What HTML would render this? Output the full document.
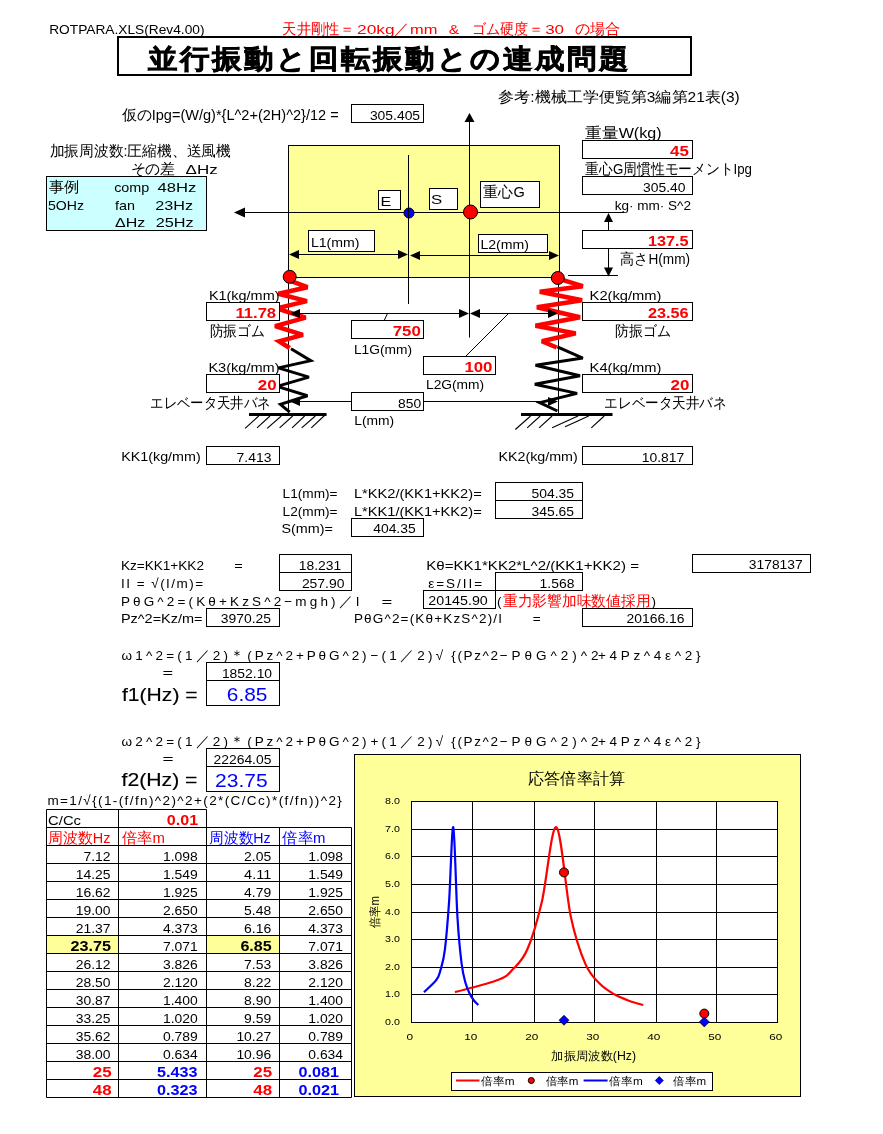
<!DOCTYPE html>
<html><head><meta charset="utf-8"><title>ROTPARA</title>
<style>
html,body{margin:0;padding:0;background:#fff;width:883px;height:1134px;overflow:hidden}
svg{display:block}
text{font-family:"Liberation Sans",sans-serif}
svg{will-change:transform}
</style></head><body>
<svg width="883" height="1134" viewBox="0 0 883 1134">
<rect x="0" y="0" width="883" height="1134" fill="#fff"/>
<text x="49.2" y="34" font-size="13.5" textLength="155.3" lengthAdjust="spacingAndGlyphs">ROTPARA.XLS(Rev4.00)</text>
<text x="282.4" y="33.5" font-size="14.5" fill="#ff0000" textLength="71.5" lengthAdjust="spacingAndGlyphs">天井剛性＝</text>
<text x="357.1" y="33.5" font-size="13.5" fill="#ff0000" textLength="37.6" lengthAdjust="spacingAndGlyphs">20kg</text>
<text x="393.8" y="33.5" font-size="14.5" fill="#ff0000" textLength="15.2" lengthAdjust="spacingAndGlyphs">／</text>
<text x="410.1" y="33.5" font-size="13.5" fill="#ff0000" textLength="27.4" lengthAdjust="spacingAndGlyphs">mm</text>
<text x="448.8" y="33.5" font-size="13.5" fill="#ff0000" textLength="10.4" lengthAdjust="spacingAndGlyphs">&amp;</text>
<text x="471.8" y="33.5" font-size="14.5" fill="#ff0000" textLength="70.9" lengthAdjust="spacingAndGlyphs">ゴム硬度＝</text>
<text x="545.2" y="33.5" font-size="13.5" fill="#ff0000" textLength="18.9" lengthAdjust="spacingAndGlyphs">30</text>
<text x="574.8" y="33.5" font-size="14.5" fill="#ff0000" textLength="45.4" lengthAdjust="spacingAndGlyphs">の場合</text>
<rect x="118" y="37" width="573" height="38" fill="none" stroke="#000" stroke-width="2"/>
<text transform="translate(148.2,0) scale(1.09,1)" x="0" y="67.6" font-size="27" font-weight="bold" stroke="#000" stroke-width="0.7" textLength="440" lengthAdjust="spacing">並行振動と回転振動との連成問題</text>
<text x="121.7" y="120.3" font-size="14.5" textLength="217.0" lengthAdjust="spacingAndGlyphs">仮のIpg=(W/g)*{L^2+(2H)^2}/12 =</text>
<rect x="351.5" y="104.5" width="72.0" height="18.0" fill="#fff" stroke="#000" stroke-width="1"/>
<text x="369.9" y="120" font-size="13.5" textLength="50.2" lengthAdjust="spacingAndGlyphs">305.405</text>
<text x="498.2" y="102" font-size="14.5" textLength="241.6" lengthAdjust="spacingAndGlyphs">参考:機械工学便覧第3編第21表(3)</text>
<text x="49.5" y="155.8" font-size="14.5" textLength="181.5" lengthAdjust="spacingAndGlyphs">加振周波数:圧縮機、送風機</text>
<text x="130.6" y="173.8" font-size="14.5" textLength="44.7" lengthAdjust="spacingAndGlyphs">その差</text>
<text x="185.6" y="173.8" font-size="13.5" textLength="32.1" lengthAdjust="spacingAndGlyphs">ΔHz</text>
<rect x="46.5" y="176.5" width="160.0" height="54.0" fill="#ccffff" stroke="#000" stroke-width="1"/>
<text x="48.9" y="191.5" font-size="14.5" textLength="30.6" lengthAdjust="spacingAndGlyphs">事例</text>
<text x="114.2" y="192.1" font-size="13.5" textLength="35.1" lengthAdjust="spacingAndGlyphs">comp</text>
<text x="157.6" y="192.1" font-size="13.5" textLength="38.8" lengthAdjust="spacingAndGlyphs">48Hz</text>
<text x="48.0" y="209.7" font-size="13.5" textLength="36.0" lengthAdjust="spacingAndGlyphs">5OHz</text>
<text x="115.1" y="209.7" font-size="13.5" textLength="20.0" lengthAdjust="spacingAndGlyphs">fan</text>
<text x="155.3" y="209.7" font-size="13.5" textLength="37.8" lengthAdjust="spacingAndGlyphs">23Hz</text>
<text x="115.1" y="227.3" font-size="13.5" textLength="30.2" lengthAdjust="spacingAndGlyphs">ΔHz</text>
<text x="155.8" y="227.3" font-size="13.5" textLength="37.9" lengthAdjust="spacingAndGlyphs">25Hz</text>
<rect x="288.5" y="145.5" width="271.0" height="132.0" fill="#ffff99" stroke="#000" stroke-width="1"/>
<line x1="469.5" y1="121" x2="469.5" y2="337.5" stroke="#000" stroke-width="1"/>
<polygon points="469.5,113 464.5,122 474.5,122" fill="#000" stroke="none" stroke-width="1"/>
<line x1="243" y1="212.5" x2="624" y2="212.5" stroke="#000" stroke-width="1"/>
<polygon points="234,212.5 245,207.5 245,217.5" fill="#000" stroke="none" stroke-width="1"/>
<rect x="378.5" y="190.5" width="22.0" height="19.0" fill="#fff" stroke="#000" stroke-width="1"/>
<text x="380.4" y="205.8" font-size="13.5" textLength="10.8" lengthAdjust="spacingAndGlyphs">E</text>
<rect x="429.5" y="188.5" width="28.0" height="21.0" fill="#fff" stroke="#000" stroke-width="1"/>
<text x="431.1" y="203.6" font-size="13.5" textLength="11.2" lengthAdjust="spacingAndGlyphs">S</text>
<rect x="480.5" y="181.5" width="59.0" height="26.0" fill="#fff" stroke="#000" stroke-width="1"/>
<text x="483.4" y="197.2" font-size="14.5" textLength="41.3" lengthAdjust="spacingAndGlyphs">重心G</text>
<circle cx="409" cy="213" r="5" fill="#0000ff" stroke="#000" stroke-width="1"/>
<line x1="408.5" y1="155" x2="408.5" y2="304" stroke="#000" stroke-width="1"/>
<circle cx="470.5" cy="212" r="7" fill="#ff0000" stroke="#000" stroke-width="1"/>
<rect x="308.5" y="230.5" width="66.0" height="21.0" fill="#fff" stroke="#000" stroke-width="1"/>
<text x="310.9" y="246.5" font-size="13.5" textLength="48.6" lengthAdjust="spacingAndGlyphs">L1(mm)</text>
<line x1="297" y1="254.5" x2="399" y2="254.5" stroke="#000" stroke-width="1"/>
<polygon points="289,254.5 299,250.0 299,259.0" fill="#000" stroke="none" stroke-width="1"/>
<polygon points="408,254.5 398,250.0 398,259.0" fill="#000" stroke="none" stroke-width="1"/>
<rect x="478.5" y="234.5" width="69.0" height="18.0" fill="#fff" stroke="#000" stroke-width="1"/>
<text x="480.4" y="248.5" font-size="13.5" textLength="48.6" lengthAdjust="spacingAndGlyphs">L2(mm)</text>
<line x1="418" y1="255.5" x2="551" y2="255.5" stroke="#000" stroke-width="1"/>
<polygon points="410,255.5 420,251.0 420,260.0" fill="#000" stroke="none" stroke-width="1"/>
<polygon points="559,255.5 549,251.0 549,260.0" fill="#000" stroke="none" stroke-width="1"/>
<text x="585.4" y="137.8" font-size="14.5" textLength="76.2" lengthAdjust="spacingAndGlyphs">重量W(kg)</text>
<rect x="582.5" y="140.5" width="110.0" height="18.0" fill="#fff" stroke="#000" stroke-width="1"/>
<text x="670.1" y="155.8" font-size="14" font-weight="bold" fill="#ff0000" textLength="18.8" lengthAdjust="spacingAndGlyphs">45</text>
<text x="585.4" y="173.8" font-size="14.5" textLength="166.6" lengthAdjust="spacingAndGlyphs">重心G周慣性モーメントIpg</text>
<rect x="582.5" y="176.5" width="110.0" height="18.0" fill="#fff" stroke="#000" stroke-width="1"/>
<text x="643.0" y="191.8" font-size="13.5" textLength="42.5" lengthAdjust="spacingAndGlyphs">305.40</text>
<text x="614.7" y="209.5" font-size="13.5" textLength="76.3" lengthAdjust="spacingAndGlyphs">kg· mm· S^2</text>
<line x1="608.5" y1="220" x2="608.5" y2="230.5" stroke="#000" stroke-width="1"/>
<polygon points="608.5,213 604.0,222 613.0,222" fill="#000" stroke="none" stroke-width="1"/>
<rect x="582.5" y="230.5" width="110.0" height="18.0" fill="#fff" stroke="#000" stroke-width="1"/>
<text x="647.9" y="245.8" font-size="14" font-weight="bold" fill="#ff0000" textLength="40.6" lengthAdjust="spacingAndGlyphs">137.5</text>
<text x="620.4" y="263.8" font-size="14.5" textLength="69.6" lengthAdjust="spacingAndGlyphs">高さH(mm)</text>
<line x1="608.5" y1="248.5" x2="608.5" y2="268" stroke="#000" stroke-width="1"/>
<polygon points="608.5,276.5 604.0,267.5 613.0,267.5" fill="#000" stroke="none" stroke-width="1"/>
<line x1="568" y1="275.5" x2="618" y2="275.5" stroke="#000" stroke-width="1"/>
<line x1="288.5" y1="277" x2="288.5" y2="414" stroke="#000" stroke-width="1"/>
<line x1="558.5" y1="278" x2="558.5" y2="414" stroke="#000" stroke-width="1"/>
<polyline points="289.7,280.6 307.5,287.2 278.4,293.8 306.9,301.1 276.5,308.4 305.6,317.6 275.1,326.2 302.9,334.8 279.1,341.4 289.7,348" fill="none" stroke="#ff0000" stroke-width="4.5" stroke-linejoin="miter" stroke-miterlimit="3"/>
<polyline points="291,348.7 310.8,360.6 278.4,367.9 308.9,377.1 277.1,386.4 307.5,395.7 280.4,404.3 289.7,412.2" fill="none" stroke="#000" stroke-width="3" stroke-linejoin="miter" stroke-miterlimit="3"/>
<polyline points="562.3,279.8 582.8,286.2 539.8,291.8 582.1,300.3 536.9,307.3 580,317.2 535.5,325.7 575.7,333.4 541.9,341.2 556.7,347.5" fill="none" stroke="#ff0000" stroke-width="4.5" stroke-linejoin="miter" stroke-miterlimit="3"/>
<polyline points="557.4,346.8 582.8,358.1 535.5,365.2 580,375.8 534.8,384.2 577.1,393.4 539.8,402.6 557.4,411" fill="none" stroke="#000" stroke-width="3" stroke-linejoin="miter" stroke-miterlimit="3"/>
<circle cx="289.7" cy="276.8" r="6.5" fill="#ff0000" stroke="#000" stroke-width="1"/>
<circle cx="557.8" cy="278" r="6.5" fill="#ff0000" stroke="#000" stroke-width="1"/>
<line x1="249" y1="414.5" x2="326.5" y2="414.5" stroke="#000" stroke-width="3"/>
<line x1="521" y1="414.5" x2="612.5" y2="414.5" stroke="#000" stroke-width="3"/>
<line x1="245.1" y1="428.4" x2="258.7" y2="416" stroke="#000" stroke-width="1.1"/>
<line x1="257" y1="427.8" x2="270" y2="416" stroke="#000" stroke-width="1.1"/>
<line x1="267.2" y1="428.4" x2="281.3" y2="416" stroke="#000" stroke-width="1.1"/>
<line x1="279.6" y1="427.8" x2="292.7" y2="416" stroke="#000" stroke-width="1.1"/>
<line x1="292.1" y1="427.8" x2="304.6" y2="416" stroke="#000" stroke-width="1.1"/>
<line x1="301.7" y1="427.8" x2="315.3" y2="416" stroke="#000" stroke-width="1.1"/>
<line x1="311.3" y1="427.8" x2="326.1" y2="414" stroke="#000" stroke-width="1.1"/>
<line x1="515.3" y1="429.5" x2="530.6" y2="416" stroke="#000" stroke-width="1.1"/>
<line x1="527.2" y1="427.8" x2="540.2" y2="416" stroke="#000" stroke-width="1.1"/>
<line x1="539.1" y1="427.8" x2="552.1" y2="416" stroke="#000" stroke-width="1.1"/>
<line x1="552.1" y1="427.8" x2="578" y2="416" stroke="#000" stroke-width="1.1"/>
<line x1="565.1" y1="426.7" x2="588.7" y2="416" stroke="#000" stroke-width="1.1"/>
<line x1="591.3" y1="427.8" x2="604.2" y2="416" stroke="#000" stroke-width="1.1"/>
<text x="208.9" y="299.8" font-size="13.5" textLength="70.6" lengthAdjust="spacingAndGlyphs">K1(kg/mm)</text>
<rect x="206.5" y="302.5" width="73.0" height="18.0" fill="#fff" stroke="#000" stroke-width="1"/>
<text x="235.5" y="317.8" font-size="14" font-weight="bold" fill="#ff0000" textLength="40.6" lengthAdjust="spacingAndGlyphs">11.78</text>
<text x="209.6" y="335.5" font-size="14.5" textLength="55.3" lengthAdjust="spacingAndGlyphs">防振ゴム</text>
<text x="208.4" y="371.8" font-size="13.5" textLength="71.2" lengthAdjust="spacingAndGlyphs">K3(kg/mm)</text>
<rect x="206.5" y="374.5" width="73.0" height="18.0" fill="#fff" stroke="#000" stroke-width="1"/>
<text x="257.8" y="389.8" font-size="14" font-weight="bold" fill="#ff0000" textLength="18.8" lengthAdjust="spacingAndGlyphs">20</text>
<text x="150.4" y="407.5" font-size="14.5" textLength="120.1" lengthAdjust="spacingAndGlyphs">エレベータ天井バネ</text>
<text x="589.6" y="299.8" font-size="13.5" textLength="71.9" lengthAdjust="spacingAndGlyphs">K2(kg/mm)</text>
<rect x="582.5" y="302.5" width="110.0" height="18.0" fill="#fff" stroke="#000" stroke-width="1"/>
<text x="648.0" y="317.8" font-size="14" font-weight="bold" fill="#ff0000" textLength="40.6" lengthAdjust="spacingAndGlyphs">23.56</text>
<text x="615.0" y="335.5" font-size="14.5" textLength="56.0" lengthAdjust="spacingAndGlyphs">防振ゴム</text>
<text x="589.6" y="371.8" font-size="13.5" textLength="71.9" lengthAdjust="spacingAndGlyphs">K4(kg/mm)</text>
<rect x="582.5" y="374.5" width="110.0" height="18.0" fill="#fff" stroke="#000" stroke-width="1"/>
<text x="670.6" y="389.8" font-size="14" font-weight="bold" fill="#ff0000" textLength="18.8" lengthAdjust="spacingAndGlyphs">20</text>
<text x="604.4" y="407.5" font-size="14.5" textLength="122.2" lengthAdjust="spacingAndGlyphs">エレベータ天井バネ</text>
<line x1="298" y1="313.5" x2="461" y2="313.5" stroke="#000" stroke-width="1"/>
<polygon points="290,313.5 300,309.0 300,318.0" fill="#000" stroke="none" stroke-width="1"/>
<polygon points="469,313.5 459,309.0 459,318.0" fill="#000" stroke="none" stroke-width="1"/>
<line x1="479" y1="313.5" x2="550" y2="313.5" stroke="#000" stroke-width="1"/>
<polygon points="470,313.5 480,309.0 480,318.0" fill="#000" stroke="none" stroke-width="1"/>
<polygon points="558,313.5 548,309.0 548,318.0" fill="#000" stroke="none" stroke-width="1"/>
<rect x="351.5" y="320.5" width="72.0" height="18.0" fill="#fff" stroke="#000" stroke-width="1"/>
<text x="392.7" y="335.8" font-size="14" font-weight="bold" fill="#ff0000" textLength="28.1" lengthAdjust="spacingAndGlyphs">750</text>
<line x1="384.4" y1="320" x2="387.5" y2="313.5" stroke="#000" stroke-width="1"/>
<text x="353.9" y="353.5" font-size="13.5" textLength="58.1" lengthAdjust="spacingAndGlyphs">L1G(mm)</text>
<rect x="423.5" y="356.5" width="72.0" height="18.0" fill="#fff" stroke="#000" stroke-width="1"/>
<text x="464.4" y="371.8" font-size="14" font-weight="bold" fill="#ff0000" textLength="28.1" lengthAdjust="spacingAndGlyphs">100</text>
<line x1="466" y1="356" x2="508.5" y2="313.5" stroke="#000" stroke-width="1"/>
<text x="426.0" y="389.4" font-size="13.5" textLength="58.1" lengthAdjust="spacingAndGlyphs">L2G(mm)</text>
<line x1="298" y1="401.5" x2="351.5" y2="401.5" stroke="#000" stroke-width="1"/>
<line x1="423.5" y1="401.5" x2="550" y2="401.5" stroke="#000" stroke-width="1"/>
<polygon points="290,401.5 300,397.0 300,406.0" fill="#000" stroke="none" stroke-width="1"/>
<polygon points="558,401.5 548,397.0 548,406.0" fill="#000" stroke="none" stroke-width="1"/>
<rect x="351.5" y="392.5" width="72.0" height="18.0" fill="#fff" stroke="#000" stroke-width="1"/>
<text x="398.0" y="407.8" font-size="13.5" textLength="23.1" lengthAdjust="spacingAndGlyphs">850</text>
<text x="354.2" y="425.2" font-size="13.5" textLength="40.0" lengthAdjust="spacingAndGlyphs">L(mm)</text>
<text x="121.2" y="461.4" font-size="13.5" textLength="79.5" lengthAdjust="spacingAndGlyphs">KK1(kg/mm)</text>
<rect x="206.5" y="446.5" width="73.0" height="18.0" fill="#fff" stroke="#000" stroke-width="1"/>
<text x="236.6" y="461.8" font-size="13.5" textLength="34.8" lengthAdjust="spacingAndGlyphs">7.413</text>
<text x="498.4" y="461.4" font-size="13.5" textLength="79.4" lengthAdjust="spacingAndGlyphs">KK2(kg/mm)</text>
<rect x="582.5" y="446.5" width="110.0" height="18.0" fill="#fff" stroke="#000" stroke-width="1"/>
<text x="641.7" y="461.8" font-size="13.5" textLength="42.5" lengthAdjust="spacingAndGlyphs">10.817</text>
<text x="282.6" y="497.8" font-size="13.5" textLength="55.0" lengthAdjust="spacingAndGlyphs">L1(mm)=</text>
<text x="353.9" y="497.8" font-size="13.5" textLength="127.8" lengthAdjust="spacingAndGlyphs">L*KK2/(KK1+KK2)=</text>
<rect x="495.5" y="482.5" width="87.0" height="18.0" fill="#fff" stroke="#000" stroke-width="1"/>
<text x="531.5" y="497.6" font-size="13.5" textLength="42.5" lengthAdjust="spacingAndGlyphs">504.35</text>
<text x="282.6" y="515.7" font-size="13.5" textLength="55.0" lengthAdjust="spacingAndGlyphs">L2(mm)=</text>
<text x="353.9" y="515.7" font-size="13.5" textLength="127.8" lengthAdjust="spacingAndGlyphs">L*KK1/(KK1+KK2)=</text>
<rect x="495.5" y="500.5" width="87.0" height="18.0" fill="#fff" stroke="#000" stroke-width="1"/>
<text x="531.5" y="515.5" font-size="13.5" textLength="42.5" lengthAdjust="spacingAndGlyphs">345.65</text>
<text x="281.5" y="533" font-size="13.5" textLength="51.5" lengthAdjust="spacingAndGlyphs">S(mm)=</text>
<rect x="351.5" y="518.5" width="72.0" height="18.0" fill="#fff" stroke="#000" stroke-width="1"/>
<text x="373.2" y="533.4" font-size="13.5" textLength="42.5" lengthAdjust="spacingAndGlyphs">404.35</text>
<text x="120.9" y="569.8" font-size="13.5" textLength="83.1" lengthAdjust="spacingAndGlyphs">Kz=KK1+KK2</text>
<text x="234.3" y="569.8" font-size="13.5" textLength="8.5" lengthAdjust="spacingAndGlyphs">=</text>
<rect x="279.5" y="554.5" width="72.0" height="18.0" fill="#fff" stroke="#000" stroke-width="1"/>
<text x="298.8" y="569.8" font-size="13.5" textLength="42.5" lengthAdjust="spacingAndGlyphs">18.231</text>
<text x="120.9" y="587.7" font-size="13.5" textLength="82.3" lengthAdjust="spacing">II = √(I/m)=</text>
<rect x="279.5" y="572.5" width="72.0" height="18.0" fill="#fff" stroke="#000" stroke-width="1"/>
<text x="301.9" y="587.7" font-size="13.5" textLength="42.5" lengthAdjust="spacingAndGlyphs">257.90</text>
<text x="120.9" y="605.6" font-size="13.5" textLength="238.7" lengthAdjust="spacing">PθG^2=(Kθ+KzS^2−mgh)／I</text>
<text x="381.4" y="605.6" font-size="13.5" textLength="10.8" lengthAdjust="spacingAndGlyphs">=</text>
<rect x="423.5" y="590.5" width="72.0" height="18.0" fill="#fff" stroke="#000" stroke-width="1"/>
<text x="428.3" y="605.4" font-size="13.5" textLength="59.5" lengthAdjust="spacingAndGlyphs">20145.90</text>
<text x="497" y="605.6" font-size="13.5">(</text>
<text x="502.9" y="605.6" font-size="14.5" fill="#ff0000" textLength="147.4" lengthAdjust="spacingAndGlyphs">重力影響加味数値採用</text>
<text x="651.5" y="605.6" font-size="13.5">)</text>
<text x="120.9" y="623" font-size="13.5" textLength="81.7" lengthAdjust="spacingAndGlyphs">Pz^2=Kz/m=</text>
<rect x="206.5" y="608.5" width="73.0" height="18.0" fill="#fff" stroke="#000" stroke-width="1"/>
<text x="220.8" y="623" font-size="13.5" textLength="50.2" lengthAdjust="spacingAndGlyphs">3970.25</text>
<text x="353.9" y="622.5" font-size="13.5" textLength="148.1" lengthAdjust="spacing">PθG^2=(Kθ+KzS^2)/I</text>
<text x="532.8" y="622.5" font-size="13.5" textLength="7.9" lengthAdjust="spacingAndGlyphs">=</text>
<rect x="582.5" y="608.5" width="110.0" height="18.0" fill="#fff" stroke="#000" stroke-width="1"/>
<text x="626.5" y="623" font-size="13.5" textLength="57.9" lengthAdjust="spacingAndGlyphs">20166.16</text>
<text x="426.3" y="569.5" font-size="13.5" textLength="212.7" lengthAdjust="spacingAndGlyphs">Kθ=KK1*KK2*L^2/(KK1+KK2) =</text>
<rect x="692.5" y="554.5" width="118.0" height="18.0" fill="#fff" stroke="#000" stroke-width="1"/>
<text x="748.8" y="569.3" font-size="13.5" textLength="53.9" lengthAdjust="spacingAndGlyphs">3178137</text>
<text x="428.3" y="587.5" font-size="13.5" textLength="53.8" lengthAdjust="spacing">ε=S/II=</text>
<rect x="495.5" y="572.5" width="87.0" height="18.0" fill="#fff" stroke="#000" stroke-width="1"/>
<text x="539.6" y="587.5" font-size="13.5" textLength="34.8" lengthAdjust="spacingAndGlyphs">1.568</text>
<text x="121.6" y="660.3" font-size="13.5" textLength="106.4" lengthAdjust="spacing">ω1^2=(1／2)</text>
<text x="230.4" y="660.3" font-size="13.5" textLength="136.2" lengthAdjust="spacing">＊(Pz^2+PθG^2)</text>
<text x="370.4" y="660.3" font-size="13.5" textLength="72.8" lengthAdjust="spacing">−(1／2)√</text>
<text x="451.3" y="660.3" font-size="13.5" textLength="46.8" lengthAdjust="spacing">{(Pz^2</text>
<text x="499.7" y="660.3" font-size="13.5" textLength="98.8" lengthAdjust="spacing">−PθG^2)^2</text>
<text x="597.9" y="660.3" font-size="13.5" textLength="102.6" lengthAdjust="spacing">+4Pz^4ε^2}</text>
<text x="162.4" y="677" font-size="13.5" textLength="10.6" lengthAdjust="spacingAndGlyphs">=</text>
<rect x="206.5" y="662.5" width="73.0" height="18.0" fill="#fff" stroke="#000" stroke-width="1"/>
<text x="221.9" y="677.6" font-size="13.5" textLength="50.2" lengthAdjust="spacingAndGlyphs">1852.10</text>
<rect x="206.5" y="680.5" width="73.0" height="25.0" fill="#fff" stroke="#000" stroke-width="1"/>
<text x="122.0" y="701" font-size="18.5" textLength="75.6" lengthAdjust="spacingAndGlyphs" stroke="#000" stroke-width="0.15">f1(Hz) =</text>
<text x="226.8" y="701" font-size="18.5" fill="#0000ff" textLength="40.6" lengthAdjust="spacingAndGlyphs">6.85</text>
<text x="121.6" y="745.9" font-size="13.5" textLength="106.4" lengthAdjust="spacing">ω2^2=(1／2)</text>
<text x="230.4" y="745.9" font-size="13.5" textLength="136.2" lengthAdjust="spacing">＊(Pz^2+PθG^2)</text>
<text x="370.4" y="745.9" font-size="13.5" textLength="72.8" lengthAdjust="spacing">+(1／2)√</text>
<text x="451.3" y="745.9" font-size="13.5" textLength="46.8" lengthAdjust="spacing">{(Pz^2</text>
<text x="499.7" y="745.9" font-size="13.5" textLength="98.8" lengthAdjust="spacing">−PθG^2)^2</text>
<text x="597.9" y="745.9" font-size="13.5" textLength="102.6" lengthAdjust="spacing">+4Pz^4ε^2}</text>
<text x="162.4" y="763" font-size="13.5" textLength="11.1" lengthAdjust="spacingAndGlyphs">=</text>
<rect x="206.5" y="748.5" width="73.0" height="18.0" fill="#fff" stroke="#000" stroke-width="1"/>
<text x="213.5" y="763.6" font-size="13.5" textLength="57.9" lengthAdjust="spacingAndGlyphs">22264.05</text>
<rect x="206.5" y="766.5" width="73.0" height="25.0" fill="#fff" stroke="#000" stroke-width="1"/>
<text x="121.5" y="786" font-size="18.5" textLength="76.0" lengthAdjust="spacingAndGlyphs" stroke="#000" stroke-width="0.15">f2(Hz) =</text>
<text x="215" y="786.5" font-size="18.5" fill="#0000ff" textLength="52.6" lengthAdjust="spacingAndGlyphs">23.75</text>
<text x="47.4" y="805.4" font-size="13.5" textLength="294.4" lengthAdjust="spacing">m=1/√{(1-(f/fn)^2)^2+(2*(C/Cc)*(f/fn))^2}</text>
<rect x="46.5" y="935.5" width="72.0" height="18" fill="#ffff99"/>
<rect x="206.5" y="935.5" width="73.0" height="18" fill="#ffff99"/>
<line x1="46.5" y1="809.5" x2="206.5" y2="809.5" stroke="#000" stroke-width="1"/>
<line x1="46.5" y1="827.5" x2="351.5" y2="827.5" stroke="#000" stroke-width="1"/>
<line x1="46.5" y1="845.5" x2="351.5" y2="845.5" stroke="#000" stroke-width="1"/>
<line x1="46.5" y1="863.5" x2="351.5" y2="863.5" stroke="#000" stroke-width="1"/>
<line x1="46.5" y1="881.5" x2="351.5" y2="881.5" stroke="#000" stroke-width="1"/>
<line x1="46.5" y1="899.5" x2="351.5" y2="899.5" stroke="#000" stroke-width="1"/>
<line x1="46.5" y1="917.5" x2="351.5" y2="917.5" stroke="#000" stroke-width="1"/>
<line x1="46.5" y1="935.5" x2="351.5" y2="935.5" stroke="#000" stroke-width="1"/>
<line x1="46.5" y1="953.5" x2="351.5" y2="953.5" stroke="#000" stroke-width="1"/>
<line x1="46.5" y1="971.5" x2="351.5" y2="971.5" stroke="#000" stroke-width="1"/>
<line x1="46.5" y1="989.5" x2="351.5" y2="989.5" stroke="#000" stroke-width="1"/>
<line x1="46.5" y1="1007.5" x2="351.5" y2="1007.5" stroke="#000" stroke-width="1"/>
<line x1="46.5" y1="1025.5" x2="351.5" y2="1025.5" stroke="#000" stroke-width="1"/>
<line x1="46.5" y1="1043.5" x2="351.5" y2="1043.5" stroke="#000" stroke-width="1"/>
<line x1="46.5" y1="1061.5" x2="351.5" y2="1061.5" stroke="#000" stroke-width="1"/>
<line x1="46.5" y1="1079.5" x2="351.5" y2="1079.5" stroke="#000" stroke-width="1"/>
<line x1="46.5" y1="1097.5" x2="351.5" y2="1097.5" stroke="#000" stroke-width="1"/>
<line x1="46.5" y1="809.5" x2="46.5" y2="1097.5" stroke="#000" stroke-width="1"/>
<line x1="118.5" y1="809.5" x2="118.5" y2="1097.5" stroke="#000" stroke-width="1"/>
<line x1="206.5" y1="809.5" x2="206.5" y2="1097.5" stroke="#000" stroke-width="1"/>
<line x1="279.5" y1="827.5" x2="279.5" y2="1097.5" stroke="#000" stroke-width="1"/>
<line x1="351.5" y1="827.5" x2="351.5" y2="1097.5" stroke="#000" stroke-width="1"/>
<text x="48.1" y="824.8" font-size="13.5" textLength="32.9" lengthAdjust="spacingAndGlyphs">C/Cc</text>
<text x="166.8" y="824.8" font-size="14" font-weight="bold" fill="#ff0000" textLength="31.3" lengthAdjust="spacingAndGlyphs">0.01</text>
<text x="48.1" y="842.8" font-size="14.5" fill="#ff0000" textLength="62.4" lengthAdjust="spacingAndGlyphs">周波数Hz</text>
<text x="121.8" y="842.8" font-size="14.5" fill="#ff0000" textLength="43.2" lengthAdjust="spacingAndGlyphs">倍率m</text>
<text x="209.2" y="842.8" font-size="14.5" fill="#0000ff" textLength="61.3" lengthAdjust="spacingAndGlyphs">周波数Hz</text>
<text x="282.1" y="842.8" font-size="14.5" fill="#0000ff" textLength="43.4" lengthAdjust="spacingAndGlyphs">倍率m</text>
<text x="83.5" y="860.8" font-size="13.5" textLength="27.1" lengthAdjust="spacingAndGlyphs">7.12</text>
<text x="163.0" y="860.8" font-size="13.5" textLength="34.8" lengthAdjust="spacingAndGlyphs">1.098</text>
<text x="244.1" y="860.8" font-size="13.5" textLength="27.1" lengthAdjust="spacingAndGlyphs">2.05</text>
<text x="308.3" y="860.8" font-size="13.5" textLength="34.8" lengthAdjust="spacingAndGlyphs">1.098</text>
<text x="75.8" y="878.8" font-size="13.5" textLength="34.8" lengthAdjust="spacingAndGlyphs">14.25</text>
<text x="163.0" y="878.8" font-size="13.5" textLength="34.8" lengthAdjust="spacingAndGlyphs">1.549</text>
<text x="244.1" y="878.8" font-size="13.5" textLength="27.1" lengthAdjust="spacingAndGlyphs">4.11</text>
<text x="308.3" y="878.8" font-size="13.5" textLength="34.8" lengthAdjust="spacingAndGlyphs">1.549</text>
<text x="75.8" y="896.8" font-size="13.5" textLength="34.8" lengthAdjust="spacingAndGlyphs">16.62</text>
<text x="163.0" y="896.8" font-size="13.5" textLength="34.8" lengthAdjust="spacingAndGlyphs">1.925</text>
<text x="244.1" y="896.8" font-size="13.5" textLength="27.1" lengthAdjust="spacingAndGlyphs">4.79</text>
<text x="308.3" y="896.8" font-size="13.5" textLength="34.8" lengthAdjust="spacingAndGlyphs">1.925</text>
<text x="75.8" y="914.8" font-size="13.5" textLength="34.8" lengthAdjust="spacingAndGlyphs">19.00</text>
<text x="163.0" y="914.8" font-size="13.5" textLength="34.8" lengthAdjust="spacingAndGlyphs">2.650</text>
<text x="244.1" y="914.8" font-size="13.5" textLength="27.1" lengthAdjust="spacingAndGlyphs">5.48</text>
<text x="308.3" y="914.8" font-size="13.5" textLength="34.8" lengthAdjust="spacingAndGlyphs">2.650</text>
<text x="75.8" y="932.8" font-size="13.5" textLength="34.8" lengthAdjust="spacingAndGlyphs">21.37</text>
<text x="163.0" y="932.8" font-size="13.5" textLength="34.8" lengthAdjust="spacingAndGlyphs">4.373</text>
<text x="244.1" y="932.8" font-size="13.5" textLength="27.1" lengthAdjust="spacingAndGlyphs">6.16</text>
<text x="308.3" y="932.8" font-size="13.5" textLength="34.8" lengthAdjust="spacingAndGlyphs">4.373</text>
<text x="70.5" y="950.8" font-size="14" font-weight="bold" textLength="40.6" lengthAdjust="spacingAndGlyphs">23.75</text>
<text x="163.0" y="950.8" font-size="13.5" textLength="34.8" lengthAdjust="spacingAndGlyphs">7.071</text>
<text x="240.4" y="950.8" font-size="14" font-weight="bold" textLength="31.3" lengthAdjust="spacingAndGlyphs">6.85</text>
<text x="308.3" y="950.8" font-size="13.5" textLength="34.8" lengthAdjust="spacingAndGlyphs">7.071</text>
<text x="75.8" y="968.8" font-size="13.5" textLength="34.8" lengthAdjust="spacingAndGlyphs">26.12</text>
<text x="163.0" y="968.8" font-size="13.5" textLength="34.8" lengthAdjust="spacingAndGlyphs">3.826</text>
<text x="244.1" y="968.8" font-size="13.5" textLength="27.1" lengthAdjust="spacingAndGlyphs">7.53</text>
<text x="308.3" y="968.8" font-size="13.5" textLength="34.8" lengthAdjust="spacingAndGlyphs">3.826</text>
<text x="75.8" y="986.8" font-size="13.5" textLength="34.8" lengthAdjust="spacingAndGlyphs">28.50</text>
<text x="163.0" y="986.8" font-size="13.5" textLength="34.8" lengthAdjust="spacingAndGlyphs">2.120</text>
<text x="244.1" y="986.8" font-size="13.5" textLength="27.1" lengthAdjust="spacingAndGlyphs">8.22</text>
<text x="308.3" y="986.8" font-size="13.5" textLength="34.8" lengthAdjust="spacingAndGlyphs">2.120</text>
<text x="75.8" y="1004.8" font-size="13.5" textLength="34.8" lengthAdjust="spacingAndGlyphs">30.87</text>
<text x="163.0" y="1004.8" font-size="13.5" textLength="34.8" lengthAdjust="spacingAndGlyphs">1.400</text>
<text x="244.1" y="1004.8" font-size="13.5" textLength="27.1" lengthAdjust="spacingAndGlyphs">8.90</text>
<text x="308.3" y="1004.8" font-size="13.5" textLength="34.8" lengthAdjust="spacingAndGlyphs">1.400</text>
<text x="75.8" y="1022.8" font-size="13.5" textLength="34.8" lengthAdjust="spacingAndGlyphs">33.25</text>
<text x="163.0" y="1022.8" font-size="13.5" textLength="34.8" lengthAdjust="spacingAndGlyphs">1.020</text>
<text x="244.1" y="1022.8" font-size="13.5" textLength="27.1" lengthAdjust="spacingAndGlyphs">9.59</text>
<text x="308.3" y="1022.8" font-size="13.5" textLength="34.8" lengthAdjust="spacingAndGlyphs">1.020</text>
<text x="75.8" y="1040.8" font-size="13.5" textLength="34.8" lengthAdjust="spacingAndGlyphs">35.62</text>
<text x="163.0" y="1040.8" font-size="13.5" textLength="34.8" lengthAdjust="spacingAndGlyphs">0.789</text>
<text x="236.4" y="1040.8" font-size="13.5" textLength="34.8" lengthAdjust="spacingAndGlyphs">10.27</text>
<text x="308.3" y="1040.8" font-size="13.5" textLength="34.8" lengthAdjust="spacingAndGlyphs">0.789</text>
<text x="75.8" y="1058.8" font-size="13.5" textLength="34.8" lengthAdjust="spacingAndGlyphs">38.00</text>
<text x="163.0" y="1058.8" font-size="13.5" textLength="34.8" lengthAdjust="spacingAndGlyphs">0.634</text>
<text x="236.4" y="1058.8" font-size="13.5" textLength="34.8" lengthAdjust="spacingAndGlyphs">10.96</text>
<text x="308.3" y="1058.8" font-size="13.5" textLength="34.8" lengthAdjust="spacingAndGlyphs">0.634</text>
<text x="92.8" y="1076.8" font-size="14" font-weight="bold" fill="#ff0000" textLength="18.8" lengthAdjust="spacingAndGlyphs">25</text>
<text x="157.0" y="1076.8" font-size="14" font-weight="bold" fill="#0000ff" textLength="40.6" lengthAdjust="spacingAndGlyphs">5.433</text>
<text x="253.3" y="1076.8" font-size="14" font-weight="bold" fill="#ff0000" textLength="18.8" lengthAdjust="spacingAndGlyphs">25</text>
<text x="298.5" y="1076.8" font-size="14" font-weight="bold" fill="#0000ff" textLength="40.6" lengthAdjust="spacingAndGlyphs">0.081</text>
<text x="92.8" y="1094.8" font-size="14" font-weight="bold" fill="#ff0000" textLength="18.8" lengthAdjust="spacingAndGlyphs">48</text>
<text x="157.0" y="1094.8" font-size="14" font-weight="bold" fill="#0000ff" textLength="40.6" lengthAdjust="spacingAndGlyphs">0.323</text>
<text x="253.3" y="1094.8" font-size="14" font-weight="bold" fill="#ff0000" textLength="18.8" lengthAdjust="spacingAndGlyphs">48</text>
<text x="298.5" y="1094.8" font-size="14" font-weight="bold" fill="#0000ff" textLength="40.6" lengthAdjust="spacingAndGlyphs">0.021</text>
<rect x="354.5" y="754.5" width="446.0" height="342.0" fill="#ffff99" stroke="#000" stroke-width="1"/>
<text x="528.1" y="783.6" font-size="16" textLength="97.1" lengthAdjust="spacingAndGlyphs">応答倍率計算</text>
<rect x="411.5" y="801.5" width="366.0" height="221.0" fill="#fff" stroke="#000" stroke-width="1"/>
<line x1="472.5" y1="801.5" x2="472.5" y2="1022.5" stroke="#000" stroke-width="1"/>
<line x1="534.5" y1="801.5" x2="534.5" y2="1022.5" stroke="#000" stroke-width="1"/>
<line x1="594.5" y1="801.5" x2="594.5" y2="1022.5" stroke="#000" stroke-width="1"/>
<line x1="656.5" y1="801.5" x2="656.5" y2="1022.5" stroke="#000" stroke-width="1"/>
<line x1="716.5" y1="801.5" x2="716.5" y2="1022.5" stroke="#000" stroke-width="1"/>
<line x1="411.5" y1="994.5" x2="777.5" y2="994.5" stroke="#000" stroke-width="1"/>
<line x1="411.5" y1="967.5" x2="777.5" y2="967.5" stroke="#000" stroke-width="1"/>
<line x1="411.5" y1="939.5" x2="777.5" y2="939.5" stroke="#000" stroke-width="1"/>
<line x1="411.5" y1="912.5" x2="777.5" y2="912.5" stroke="#000" stroke-width="1"/>
<line x1="411.5" y1="884.5" x2="777.5" y2="884.5" stroke="#000" stroke-width="1"/>
<line x1="411.5" y1="856.5" x2="777.5" y2="856.5" stroke="#000" stroke-width="1"/>
<line x1="411.5" y1="829.5" x2="777.5" y2="829.5" stroke="#000" stroke-width="1"/>
<text x="385.1" y="1025" font-size="9.5" textLength="14.9" lengthAdjust="spacingAndGlyphs">0.0</text>
<text x="385.1" y="997" font-size="9.5" textLength="14.9" lengthAdjust="spacingAndGlyphs">1.0</text>
<text x="385.1" y="970" font-size="9.5" textLength="14.9" lengthAdjust="spacingAndGlyphs">2.0</text>
<text x="385.1" y="942" font-size="9.5" textLength="14.9" lengthAdjust="spacingAndGlyphs">3.0</text>
<text x="385.1" y="915" font-size="9.5" textLength="14.9" lengthAdjust="spacingAndGlyphs">4.0</text>
<text x="385.1" y="887" font-size="9.5" textLength="14.9" lengthAdjust="spacingAndGlyphs">5.0</text>
<text x="385.1" y="859" font-size="9.5" textLength="14.9" lengthAdjust="spacingAndGlyphs">6.0</text>
<text x="385.1" y="832" font-size="9.5" textLength="14.9" lengthAdjust="spacingAndGlyphs">7.0</text>
<text x="385.1" y="804" font-size="9.5" textLength="14.9" lengthAdjust="spacingAndGlyphs">8.0</text>
<text x="406.4" y="1039.7" font-size="9.5" textLength="6.6" lengthAdjust="spacingAndGlyphs">0</text>
<text x="464.15" y="1039.7" font-size="9.5" textLength="13.1" lengthAdjust="spacingAndGlyphs">10</text>
<text x="525.15" y="1039.7" font-size="9.5" textLength="13.1" lengthAdjust="spacingAndGlyphs">20</text>
<text x="586.15" y="1039.7" font-size="9.5" textLength="13.1" lengthAdjust="spacingAndGlyphs">30</text>
<text x="647.15" y="1039.7" font-size="9.5" textLength="13.1" lengthAdjust="spacingAndGlyphs">40</text>
<text x="708.15" y="1039.7" font-size="9.5" textLength="13.1" lengthAdjust="spacingAndGlyphs">50</text>
<text x="769.15" y="1039.7" font-size="9.5" textLength="13.1" lengthAdjust="spacingAndGlyphs">60</text>
<text x="551.4" y="1060" font-size="12" textLength="84.7" lengthAdjust="spacingAndGlyphs">加振周波数(Hz)</text>
<text x="0" y="0" font-size="12" transform="translate(378.5,928) rotate(-90)" textLength="32" lengthAdjust="spacingAndGlyphs">倍率m</text>
<path d="M454.93,992.17 C462.18,990.09 488.77,983.52 498.43,979.71 C508.08,975.90 508.05,974.39 512.88,969.32 C517.71,964.25 522.57,960.56 527.40,949.29 C532.23,938.02 537.03,922.05 541.86,901.70 C546.69,881.34 551.55,824.65 556.38,827.16 C561.20,829.68 566.00,894.01 570.83,916.81 C575.66,939.60 580.52,952.77 585.35,963.93 C590.18,975.10 594.98,978.76 599.81,983.83 C604.64,988.89 609.50,991.51 614.33,994.32 C619.15,997.14 623.95,998.93 628.78,1000.70 C633.61,1002.48 640.88,1004.27 643.30,1004.99" fill="none" stroke="#ff0000" stroke-width="2.2"/>
<path d="M424.00,992.17 C426.10,990.09 433.79,983.52 436.57,979.71 C439.36,975.90 439.33,974.39 440.72,969.32 C442.11,964.25 443.54,960.56 444.93,949.29 C446.32,938.02 447.68,922.05 449.08,901.70 C450.47,881.34 451.89,824.65 453.28,827.16 C454.68,829.68 456.04,894.01 457.43,916.81 C458.83,939.60 460.25,952.77 461.64,963.93 C463.03,975.10 464.40,978.76 465.79,983.83 C467.18,988.89 468.61,991.51 470.00,994.32 C471.39,997.14 472.75,998.93 474.15,1000.70 C475.54,1002.48 477.65,1004.27 478.36,1004.99" fill="none" stroke="#0000ff" stroke-width="2.2"/>
<circle cx="564.0" cy="872.413375" r="4.5" fill="#ff0000" stroke="#000" stroke-width="1"/>
<circle cx="704.3" cy="1013.577125" r="4.5" fill="#ff0000" stroke="#000" stroke-width="1"/>
<polygon points="564.0,1015.26 569.0,1020.26 564.0,1025.26 559.0,1020.26" fill="#0000ff" stroke="#000" stroke-width="0.7"/>
<polygon points="704.3,1016.92 709.3,1021.92 704.3,1026.92 699.3,1021.92" fill="#0000ff" stroke="#000" stroke-width="0.7"/>
<rect x="451.5" y="1072.5" width="261.0" height="18.0" fill="#fff" stroke="#000" stroke-width="1"/>
<line x1="456" y1="1080.5" x2="479.5" y2="1080.5" stroke="#ff0000" stroke-width="2"/>
<text x="481.1" y="1084.5" font-size="11" textLength="33.4" lengthAdjust="spacingAndGlyphs">倍率m</text>
<circle cx="531.3" cy="1080.5" r="3" fill="#ff0000" stroke="#000" stroke-width="1"/>
<text x="545.6" y="1084.5" font-size="11" textLength="32.8" lengthAdjust="spacingAndGlyphs">倍率m</text>
<line x1="583.6" y1="1080.5" x2="607.6" y2="1080.5" stroke="#0000ff" stroke-width="2"/>
<text x="609.4" y="1084.5" font-size="11" textLength="33.4" lengthAdjust="spacingAndGlyphs">倍率m</text>
<polygon points="659.3,1076.5 663.3,1080.5 659.3,1084.5 655.3,1080.5" fill="#0000ff" stroke="#000" stroke-width="0.7"/>
<text x="673.3" y="1084.5" font-size="11" textLength="32.7" lengthAdjust="spacingAndGlyphs">倍率m</text>
</svg>
</body></html>
